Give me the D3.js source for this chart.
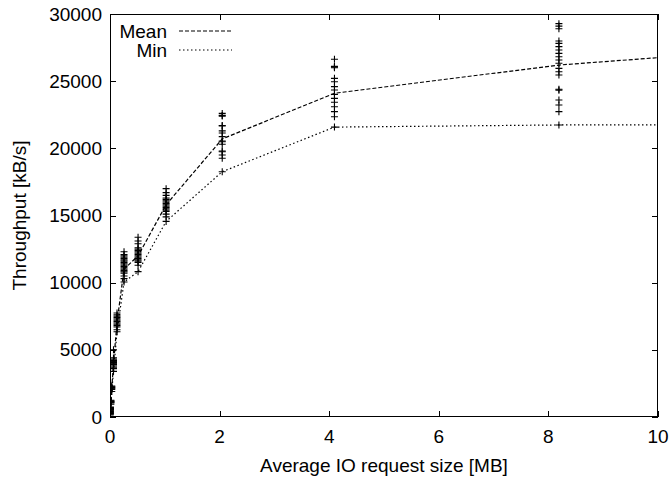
<!DOCTYPE html>
<html>
<head>
<meta charset="utf-8">
<script src="https://cdn.jsdelivr.net/npm/d3@7"></script>
<style>
  html, body { margin: 0; padding: 0; background: #fff; }
  svg { display: block; }
  text { font-family: "Liberation Sans", Arial, Helvetica, sans-serif; fill: #000; }
</style>
</head>
<body>
<svg id="chart" width="670" height="479"></svg>
<script>
// Request sizes in MB (KB / 1000), one entry per measured block size
const sizeMB = [0.004, 0.008, 0.016, 0.032, 0.064, 0.128, 0.256, 0.512, 1.024, 2.048, 4.096, 8.192, 16.384];

// Mean and minimum throughput per request size [kB/s]
const meanKBs = [300, 600, 1120, 2150, 3950, 7050, 11000, 12000, 15800, 20700, 24100, 26200, 28700];
const minKBs  = [150, 450, 950, 1900, 3400, 6350, 10050, 10820, 14560, 18260, 21580, 21740, 21800];

// Individual run throughputs [kB/s] for each request size
const runs4k   = [150, 200, 250, 280, 300, 320, 350, 380, 420, 500];
const runs8k   = [450, 520, 560, 600, 620, 650, 700, 750];
const runs16k  = [950, 1050, 1100, 1120, 1150, 1200, 1250];
const runs32k  = [1900, 2050, 2100, 2150, 2200, 2250, 2300];
const runs64k  = [3400, 3600, 3700, 3800, 3900, 3950, 4000, 4050, 4100, 4150, 4200, 4300, 4400, 5000];
const runs128k = [6350, 6500, 6700, 6800, 6900, 7000, 7100, 7200, 7300, 7400, 7500, 7600, 7740];
const runs256k = [10050, 10300, 10500, 10700, 10800, 10900, 11000, 11100, 11200, 11300, 11400, 11500, 11600, 11700, 11800, 11900, 12000, 12100, 12300];
const runs512k = [10820, 11300, 11500, 11600, 11700, 11800, 11900, 12000, 12100, 12200, 12300, 12400, 12500, 12600, 12900, 13100, 13380];
const runs1m   = [14560, 14900, 15100, 15300, 15400, 15500, 15600, 15700, 15800, 15900, 16000, 16100, 16200, 16300, 16500, 16700, 17000];
const runs2m   = [18260, 19260, 19500, 19750, 19800, 20300, 20490, 20550, 20870, 21140, 21300, 21660, 21700, 22400, 22450, 22600];
const runs4m   = [21580, 22350, 22730, 23100, 23430, 23720, 24020, 24340, 24590, 24960, 25210, 26000, 26050, 26100, 26630];
const runs8m   = [21740, 22730, 23230, 23600, 24330, 24400, 25460, 25700, 25950, 26330, 26580, 26820, 27070, 27320, 27570, 27810, 27990, 28900, 29100, 29280];
const runSets  = [runs4k, runs8k, runs16k, runs32k, runs64k, runs128k, runs256k, runs512k, runs1m, runs2m, runs4m, runs8m];

// Axis ticks
const xTicks = [0, 2, 4, 6, 8, 10];
const yTicks = [0, 5000, 10000, 15000, 20000, 25000, 30000];

// Legend entries
const seriesNames = ["Mean", "Min"];

const svg = d3.select("#chart");
const plotL = 110, plotR = 658, plotT = 14, plotB = 417;
const fontPx = 19;

const x = d3.scaleLinear().domain([0, 10]).range([plotL, plotR]);
const y = d3.scaleLinear().domain([0, 30000]).range([plotB, plotT]);

svg.append("defs").append("clipPath").attr("id", "plotArea")
  .append("rect").attr("x", plotL).attr("y", plotT)
  .attr("width", plotR - plotL).attr("height", plotB - plotT);

// Inward ticks on all four sides
const tickLen = 6;
const tickG = svg.append("g").attr("stroke", "#000").attr("stroke-width", 1);
xTicks.forEach(t => {
  const px = Math.round(x(t)) + 0.5;
  tickG.append("line").attr("x1", px).attr("x2", px).attr("y1", plotB).attr("y2", plotB - tickLen);
  tickG.append("line").attr("x1", px).attr("x2", px).attr("y1", plotT).attr("y2", plotT + tickLen);
});
yTicks.forEach(t => {
  const py = Math.round(y(t)) + 0.5;
  tickG.append("line").attr("x1", plotL).attr("x2", plotL + tickLen).attr("y1", py).attr("y2", py);
  tickG.append("line").attr("x1", plotR).attr("x2", plotR - tickLen).attr("y1", py).attr("y2", py);
});

// Tick labels
svg.append("g").selectAll("text").data(xTicks).join("text")
  .attr("x", d => x(d)).attr("y", plotB + 26)
  .attr("text-anchor", "middle").style("font-size", fontPx + "px")
  .text(d => d);
svg.append("g").selectAll("text").data(yTicks).join("text")
  .attr("x", plotL - 8).attr("y", d => y(d)).attr("dy", "0.35em")
  .attr("text-anchor", "end").style("font-size", fontPx + "px")
  .text(d => d);

// Axis titles
svg.append("text").attr("x", (plotL + plotR) / 2).attr("y", plotB + 55)
  .attr("text-anchor", "middle").style("font-size", fontPx + "px")
  .text("Average IO request size [MB]");
svg.append("text")
  .attr("transform", `translate(26,${(plotT + plotB) / 2}) rotate(-90)`)
  .attr("text-anchor", "middle").style("font-size", fontPx + "px")
  .text("Throughput [kB/s]");

const plot = svg.append("g").attr("clip-path", "url(#plotArea)");

// Individual runs as "+" markers
const pts = [];
runSets.forEach((runs, i) => runs.forEach(v => pts.push([sizeMB[i], v])));
const half = 3.5;
plot.append("g").attr("stroke", "#000").attr("stroke-width", 1.1)
  .selectAll("path").data(pts).join("path")
  .attr("d", d => {
    const cx = x(d[0]), cy = y(d[1]);
    return `M${cx - half},${cy}H${cx + half}M${cx},${cy - half}V${cy + half}`;
  });

// Mean and min lines
const line = d3.line().x(d => x(d[0])).y(d => y(d[1]));
const dashes = ["4,2", "1.5,2.5"];
[meanKBs, minKBs].forEach((vals, k) => {
  plot.append("path")
    .datum(sizeMB.map((s, i) => [s, vals[i]]))
    .attr("fill", "none").attr("stroke", "#000").attr("stroke-width", 1.2)
    .attr("stroke-dasharray", dashes[k])
    .attr("d", line);
});

// Legend
seriesNames.forEach((name, k) => {
  const ly = 31 + k * 19;
  svg.append("text").attr("x", 167).attr("y", ly).attr("dy", "0.35em")
    .attr("text-anchor", "end").style("font-size", fontPx + "px").text(name);
  svg.append("line").attr("x1", 179).attr("x2", 232).attr("y1", ly).attr("y2", ly)
    .attr("stroke", "#000").attr("stroke-width", 1.2).attr("stroke-dasharray", dashes[k]);
});

// Plot border
svg.append("rect").attr("x", plotL + 0.5).attr("y", plotT + 0.5)
  .attr("width", plotR - plotL - 1).attr("height", plotB - plotT - 1)
  .attr("fill", "none").attr("stroke", "#000").attr("stroke-width", 1);
</script>
</body>
</html>
